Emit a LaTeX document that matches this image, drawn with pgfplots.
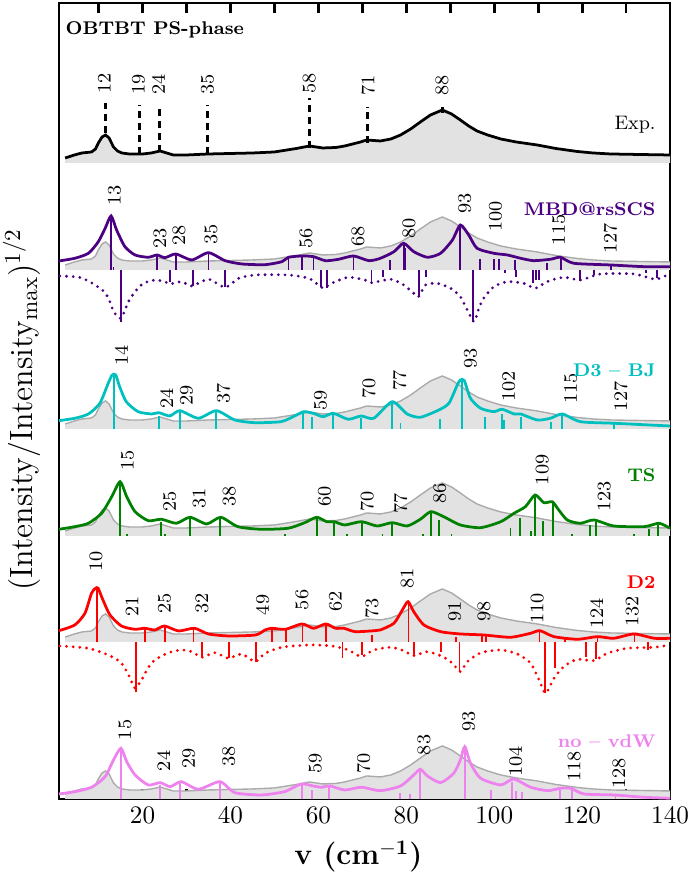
\documentclass[border=0pt]{standalone}
\usepackage{pgfplots}
\usepackage{pgfplotstable}
\pgfplotsset{compat=1.18}
\definecolor{mbd}{RGB}{75,0,130}
\definecolor{dthree}{RGB}{0,191,191}
\definecolor{tsc}{RGB}{0,128,0}
\definecolor{dtwo}{RGB}{255,0,0}
\definecolor{novdw}{RGB}{238,130,238}
\definecolor{fillgrey}{RGB}{226,226,226}
\definecolor{linegrey}{RGB}{170,170,170}

\pgfplotstableread{
x y
2.4 637
2.4 642
4.5 645
6.2 647
8.4 648
9.3 651
9.95 657
10.8 663
11.6 665
12.4 662
13.4 653
14.3 649
15.3 647
17 646
20 646
22 647
24 649
25.5 647
27 645
30 645
35 646
40 646.5
45 647
50 648
55 651.5
58 654
61 652
64 652.5
66 654
69.6 658
71 660
74.1 659
76.5 661
78.7 665
81 671
83.2 678
85.5 685
88.2 690
90.3 686
92.3 680
94.2 674
96.1 669
98.5 665
101.5 661
105 658
109.8 655
114 651.5
118.9 648.5
122.5 647
126.5 646
133 645.5
140 645
140 637
}\expfilltab

\pgfplotstableread{
x y
2.4 642
4.5 645
6.2 647
8.4 648
9.3 651
9.95 657
10.8 663
11.6 665
12.4 662
13.4 653
14.3 649
15.3 647
17 646
20 646
22 647
24 649
25.5 647
27 645
30 645
35 646
40 646.5
45 647
50 648
55 651.5
58 654
61 652
64 652.5
66 654
69.6 658
71 660
74.1 659
76.5 661
78.7 665
81 671
83.2 678
85.5 685
88.2 690
90.3 686
92.3 680
94.2 674
96.1 669
98.5 665
101.5 661
105 658
109.8 655
114 651.5
118.9 648.5
122.5 647
126.5 646
133 645.5
140 645
}\explinetab

\tikzset{pklab/.style={rotate=90,anchor=west,inner sep=0.5pt,font=\fontsize{8.3}{9}\selectfont},
  stick/.style={line width=0.8pt},
  curve/.style={line width=1.2pt, smooth, tension=0.4},
  dotcurve/.style={line width=1.35pt, line cap=round, dash pattern=on 0pt off 2.9pt, smooth, tension=0.4}}

\begin{document}
\begin{tikzpicture}
\begin{axis}[
  scale only axis, width=265.7pt, height=346.1pt,
  xmin=1, xmax=140, ymin=1, ymax=797,
  xtick={20,40,...,140}, minor xtick={10,30,...,130},
  ytick=\empty,
  tick align=inside, xtick pos=both, xticklabel pos=lower,
  major tick length=4.5pt, minor tick length=4.5pt,
  tick style={black, line width=1.2pt},
  axis line style={line width=0.8pt},
  ticklabel style={font=\fontsize{11}{13}\selectfont},
  xlabel={\textbf{v (cm$^{\mathbf{-1}}$)}},
  xlabel style={font=\fontsize{13}{15}\selectfont, at={(axis description cs:0.49,0)}, anchor=north, yshift=-15pt},
  ylabel={(Intensity/Intensity$_{\mathrm{max}}$)$^{1/2}$},
  ylabel style={font=\fontsize{14}{16}\selectfont, at={(axis description cs:-0.044,0.489)}, anchor=base},
  clip=false,
  unbounded coords=jump,
]
% ---------- Panel 1: experiment ----------
\addplot[draw=none, fill=fillgrey] table[x=x,y=y] {\expfilltab};
\addplot[black, line width=1.2pt] table[x=x,y=y] {\explinetab};
\addplot[black, line width=1.2pt, dash pattern=on 3pt off 2.2pt] coordinates {
(11.6,667)(11.6,697)(11.6,nan)
(19.3,646)(19.3,695)(19.3,nan)
(23.85,648)(23.85,695)(23.85,nan)
(34.8,646)(34.8,695)(34.8,nan)
(57.9,652)(57.9,702)(57.9,nan)
(71.1,657)(71.1,693)(71.1,nan)
(88.2,687)(88.2,693)};
\node[pklab] at (axis cs:11.3,705) {12};
\node[pklab] at (axis cs:19.1,704) {19};
\node[pklab] at (axis cs:23.6,704) {24};
\node[pklab] at (axis cs:34.8,704) {35};
\node[pklab] at (axis cs:57.9,705) {58};
\node[pklab] at (axis cs:71.3,703) {71};
\node[pklab] at (axis cs:88.1,703) {88};
\node[anchor=west, font=\fontsize{8}{9}\selectfont\bfseries, inner sep=0pt] at (axis cs:2.4,770) {OBTBT PS-phase};
\node[anchor=east, font=\fontsize{8.5}{9}\selectfont, inner sep=0pt] at (axis cs:136.8,675) {Exp.};

% ---------- Panel 2: MBD@rsSCS ----------
\addplot[draw=none, fill=fillgrey] table[x=x, y expr=\thisrow{y}-107] {\expfilltab};
\addplot[linegrey, line width=0.6pt] table[x=x, y expr=\thisrow{y}-107] {\explinetab};
\addplot[mbd, stick] coordinates {
(12.85,530)(12.85,584)(12.85,nan)
(13.4,530)(13.4,533)(13.4,nan)
(23.3,530)(23.3,545)(23.3,nan)
(27.6,530)(27.6,546)(27.6,nan)
(35,530)(35,547)(35,nan)
(53.2,530)(53.2,543)(53.2,nan)
(56.3,530)(56.3,544)(56.3,nan)
(58.9,530)(58.9,543)(58.9,nan)
(68,530)(68,544)(68,nan)
(76.2,530)(76.2,540)(76.2,nan)
(79.4,530)(79.4,557)(79.4,nan)
(79.8,530)(79.8,552)(79.8,nan)
(92.3,530)(92.3,575)(92.3,nan)
(96.8,530)(96.8,540.7)(96.8,nan)
(99.9,530)(99.9,541)(99.9,nan)
(101,530)(101,541)(101,nan)
(104.8,530)(104.8,540)(104.8,nan)
(112,530)(112,537)(112,nan)
(115.1,530)(115.1,543)(115.1,nan)
(126.5,530)(126.5,535)(126.5,nan)
(15.05,530)(15.05,478.3)(15.05,nan)
(26.3,530)(26.3,518.3)(26.3,nan)
(31.4,530)(31.4,514)(31.4,nan)
(38.8,530)(38.8,512.7)(38.8,nan)
(60.6,530)(60.6,513)(60.6,nan)
(62,530)(62,511.7)(62,nan)
(72.1,530)(72.1,518.3)(72.1,nan)
(74.7,530)(74.7,522.7)(74.7,nan)
(82.8,530)(82.8,503.3)(82.8,nan)
(84.4,530)(84.4,523.3)(84.4,nan)
(95.1,530)(95.1,478.3)(95.1,nan)
(102.4,530)(102.4,526.7)(102.4,nan)
(104.9,530)(104.9,523.3)(104.9,nan)
(108.9,530)(108.9,516.7)(108.9,nan)
(109.6,530)(109.6,520)(109.6,nan)
(110.1,530)(110.1,520)(110.1,nan)
(119.5,530)(119.5,519.3)(119.5,nan)
(122.7,530)(122.7,525)(122.7,nan)
(134.5,530)(134.5,527)(134.5,nan)
(137,530)(137,521.7)};
\addplot[mbd, curve] coordinates {
(1,539)(4.6,541.7)(7.7,546.7)(9.95,558.3)(11.5,571.7)(12.85,584)(14.1,570)(16,553.3)
(18.3,545)(21.3,542.7)(23.3,545)(25.1,542.3)(27.6,546)(31.2,540)(35,547.3)(38.8,539.3)
(42.6,536)(47.9,535.3)(51.7,538.3)(53.2,542.7)(56.3,544)(58.9,543.3)(61.6,539.3)(64.6,540.7)
(68,544)(71.5,539.3)(74.1,541.7)(77.2,548.3)(79.4,556.7)(81.7,548.3)(84.8,542.7)(87.8,546.7)
(90.5,560)(92.3,575)(94.2,565)(96.1,551.7)(99.9,546.7)(103,545)(106,541.7)(109,539.3)
(112.8,540.7)(115.1,542.7)(118.1,536.7)(126.5,535)(134.1,533.3)(140,533.3)};
\addplot[mbd, dotcurve] coordinates {
(1.2,524)(5.6,522.7)(8.6,516.7)(11.3,508.3)(12.4,500)(13.5,488)(15.1,481.7)(16.8,498.3)
(18.3,508.3)(20.2,516.7)(22.9,520)(25.1,518.3)(26.3,516)(28.9,518.3)(31.2,514)(35,520.7)
(38.8,512.7)(41.9,521.7)(45.7,525)(53.2,525)(57.8,521.7)(60,515)(61.2,511.7)(63,516.7)
(66.8,522.7)(70.6,520)(72.1,517.3)(76.5,520.7)(79.4,515)(81.7,506.7)(82.8,503.3)(84.4,515)
(87,516.7)(90.1,511.7)(92.3,503.3)(93.5,493.3)(95.4,478.3)(96.5,491.7)(97.6,501.7)(99.9,513.3)
(103,518.3)(106.7,516.7)(109.4,511.7)(112,518.3)(115.8,522.7)(119.6,520)(124.2,526)(131.8,526)
(136.7,520.7)(139.8,526)};
\node[pklab] at (axis cs:13.6,593) {13};
\node[pklab] at (axis cs:24,550) {23};
\node[pklab] at (axis cs:28.3,552.7) {28};
\node[pklab] at (axis cs:35.6,554) {35};
\node[pklab] at (axis cs:57.2,550) {56};
\node[pklab] at (axis cs:69,551.7) {68};
\node[pklab] at (axis cs:80.6,560) {80};
\node[pklab] at (axis cs:93.3,585) {93};
\node[pklab] at (axis cs:100.3,566.7) {100};
\node[pklab] at (axis cs:114.7,553.3) {115};
\node[pklab] at (axis cs:126.4,545) {127};
\node[anchor=east, font=\fontsize{8}{9}\selectfont\bfseries, text=mbd, inner sep=0pt] at (axis cs:136.8,591) {MBD@rsSCS};

% ---------- Panel 3: D3-BJ ----------
\addplot[draw=none, fill=fillgrey] table[x=x, y expr=\thisrow{y}-266] {\expfilltab};
\addplot[linegrey, line width=0.6pt] table[x=x, y expr=\thisrow{y}-266] {\explinetab};
\addplot[dthree, stick] coordinates {
(13.5,371)(13.5,425)(13.5,nan)
(23.7,371)(23.7,384)(23.7,nan)
(28.5,371)(28.5,389)(28.5,nan)
(36.8,371)(36.8,389)(36.8,nan)
(56.5,371)(56.5,387)(56.5,nan)
(58.6,371)(58.6,382.7)(58.6,nan)
(63.4,371)(63.4,386.7)(63.4,nan)
(69.7,371)(69.7,381.7)(69.7,nan)
(76.8,371)(76.8,398)(76.8,nan)
(78.7,371)(78.7,377.3)(78.7,nan)
(87.6,371)(87.6,380.7)(87.6,nan)
(92.7,371)(92.7,420)(92.7,nan)
(98,371)(98,382.7)(98,nan)
(101.8,371)(101.8,386)(101.8,nan)
(102.3,371)(102.3,380)(102.3,nan)
(106,371)(106,382.7)(106,nan)
(113,371)(113,378.3)(113,nan)
(115.5,371)(115.5,386)(115.5,nan)
(127.2,371)(127.2,376)};
\addplot[dthree, curve] coordinates {
(1,379.3)(4.6,381.7)(7.7,386)(10.3,396.7)(12.2,416.7)(13.1,425)(13.9,425)(14.8,413.3)
(16.3,398.3)(19,388.3)(22.1,386)(23.7,387.3)(26.2,384)(28.5,389.3)(32.7,381.7)(36.8,389.3)
(41,380)(45.5,377.3)(51.5,378.3)(54.6,384)(56.7,388.3)(58.8,386.7)(61.1,383.3)(63.4,386.7)
(66.8,380.7)(69.7,384)(72.6,381.7)(76.8,398.3)(80.2,386)(83.2,382.7)(87.4,390)(89.7,396.7)
(91.6,415)(92.3,420)(93.2,419.3)(94.6,401.7)(96.9,391.7)(99.9,388.3)(101.8,390.7)(104.5,386)
(106,386)(109.8,380)(112.8,381.7)(115.5,386)(119.6,378.3)(127.2,376.7)(140,374)};
\node[pklab] at (axis cs:15.2,433) {14};
\node[pklab] at (axis cs:25.5,390) {24};
\node[pklab] at (axis cs:30,393) {29};
\node[pklab] at (axis cs:38.4,395) {37};
\node[pklab] at (axis cs:60.5,388) {59};
\node[pklab] at (axis cs:71.5,400) {70};
\node[pklab] at (axis cs:78.5,408) {77};
\node[pklab] at (axis cs:94.6,430) {93};
\node[pklab] at (axis cs:103.3,396.7) {102};
\node[pklab] at (axis cs:117.4,395) {115};
\node[pklab] at (axis cs:128.8,386.7) {127};
\node[anchor=east, font=\fontsize{8}{9}\selectfont\bfseries, text=dthree, inner sep=0pt] at (axis cs:136.8,430) {D3 -- BJ};

% ---------- Panel 4: TS ----------
\addplot[draw=none, fill=fillgrey] table[x=x, y expr=\thisrow{y}-373] {\expfilltab};
\addplot[linegrey, line width=0.6pt] table[x=x, y expr=\thisrow{y}-373] {\explinetab};
\addplot[tsc, stick] coordinates {
(14.9,264)(14.9,318)(14.9,nan)
(16.4,264)(16.4,266)(16.4,nan)
(24.3,264)(24.3,278.3)(24.3,nan)
(25.2,264)(25.2,266)(25.2,nan)
(30.8,264)(30.8,282.7)(30.8,nan)
(37.6,264)(37.6,282.7)(37.6,nan)
(52.5,264)(52.5,266)(52.5,nan)
(59.6,264)(59.6,282.7)(59.6,nan)
(63.6,264)(63.6,278.3)(63.6,nan)
(66.6,264)(66.6,266)(66.6,nan)
(70,264)(70,278.3)(70,nan)
(74.6,264)(74.6,266)(74.6,nan)
(76.8,264)(76.8,277)(76.8,nan)
(83.8,264)(83.8,266)(83.8,nan)
(85.6,264)(85.6,288)(85.6,nan)
(87.4,264)(87.4,280)(87.4,nan)
(90.3,264)(90.3,266)(90.3,nan)
(103.7,264)(103.7,271.7)(103.7,nan)
(105.8,264)(105.8,281.7)(105.8,nan)
(108.3,264)(108.3,269)(108.3,nan)
(109.2,264)(109.2,305)(109.2,nan)
(111.1,264)(111.1,279.3)(111.1,nan)
(113.4,264)(113.4,297.3)(113.4,nan)
(117.7,264)(117.7,266)(117.7,nan)
(121.8,264)(121.8,275)(121.8,nan)
(123.2,264)(123.2,279.3)(123.2,nan)
(131.8,264)(131.8,266)(131.8,nan)
(135.2,264)(135.2,270.7)(135.2,nan)
(137.3,264)(137.3,275)};
\addplot[tsc, curve] coordinates {
(1,270.7)(4.6,273.3)(7.7,276.7)(10.7,286.7)(13,303.3)(14.9,318.3)(16.4,303.3)(18.3,288.3)
(21.3,279.3)(24.3,280.7)(27.7,276.7)(30.8,282.7)(34.6,276)(37.8,282.7)(41.7,273.3)(47,270.7)
(53.1,271.7)(56.9,277.3)(59.6,282.7)(61.9,278.3)(63.6,278.3)(66,275)(69.8,278.3)(73.4,274)
(76.8,277.3)(80.2,274)(83.2,280.7)(85.6,288.3)(88.5,283.3)(92.3,275)(96.9,272.3)(101.5,278.3)
(104.5,286.7)(107.1,293.3)(109.3,305)(111.3,297.3)(113.2,298.3)(114.4,291.7)(116.6,280)(119.6,276.7)
(122.7,280)(127.2,274)(134.1,273.3)(137.5,276.7)(140,271.7)};
\node[pklab] at (axis cs:16.6,328) {15};
\node[pklab] at (axis cs:26.2,286.7) {25};
\node[pklab] at (axis cs:32.9,290) {31};
\node[pklab] at (axis cs:39.7,291.7) {38};
\node[pklab] at (axis cs:61.4,291.7) {60};
\node[pklab] at (axis cs:71.1,286.7) {70};
\node[pklab] at (axis cs:78.7,285) {77};
\node[pklab] at (axis cs:87.6,295) {86};
\node[pklab] at (axis cs:110.9,313.3) {109};
\node[pklab] at (axis cs:125,286.7) {123};
\node[anchor=east, font=\fontsize{8}{9}\selectfont\bfseries, text=tsc, inner sep=0pt] at (axis cs:136.8,325) {TS};

% ---------- Panel 5: D2 ----------
\addplot[draw=none, fill=fillgrey] table[x=x, y expr=\thisrow{y}-479] {\expfilltab};
\addplot[linegrey, line width=0.6pt] table[x=x, y expr=\thisrow{y}-479] {\explinetab};
\addplot[dtwo, stick] coordinates {
(9.6,158)(9.6,211.7)(9.6,nan)
(20.5,158)(20.5,171.7)(20.5,nan)
(25.1,158)(25.1,173.3)(25.1,nan)
(31.6,158)(31.6,171.7)(31.6,nan)
(49.4,158)(49.4,171.7)(49.4,nan)
(52.7,158)(52.7,170.7)(52.7,nan)
(56.4,158)(56.4,176)(56.4,nan)
(61.7,158)(61.7,176)(61.7,nan)
(72.2,158)(72.2,165)(72.2,nan)
(80.5,158)(80.5,198.3)(80.5,nan)
(91.3,158)(91.3,163.3)(91.3,nan)
(97.3,158)(97.3,164)(97.3,nan)
(98.1,158)(98.1,164)(98.1,nan)
(110.3,158)(110.3,168.3)(110.3,nan)
(116.1,158)(116.1,161)(116.1,nan)
(123.5,158)(123.5,162.7)(123.5,nan)
(131.9,158)(131.9,166.7)(131.9,nan)
(18.5,158)(18.5,108.3)(18.5,nan)
(33.5,158)(33.5,143.3)(33.5,nan)
(39.7,158)(39.7,141.7)(39.7,nan)
(45.8,158)(45.8,138.3)(45.8,nan)
(65.5,158)(65.5,141.7)(65.5,nan)
(69.9,158)(69.9,145)(69.9,nan)
(81.7,158)(81.7,145)(81.7,nan)
(87.9,158)(87.9,148.3)(87.9,nan)
(92.1,158)(92.1,128.3)(92.1,nan)
(111.5,158)(111.5,106.7)(111.5,nan)
(113.8,158)(113.8,131.7)(113.8,nan)
(120.8,158)(120.8,142.7)(120.8,nan)
(123.2,158)(123.2,140.7)(123.2,nan)
(135,158)(135,150)};
\addplot[dtwo, curve] coordinates {
(1,169.3)(4.6,175)(6.9,186.7)(8.4,206.7)(9.3,211.7)(9.9,211.7)(11,200)(12.6,185)
(15.2,174)(18.2,170.7)(20.5,171.7)(22.8,170)(25,174)(28.2,169)(31.8,171.7)(35,166)
(39.6,164)(45.7,165)(47.9,170)(49.4,171.7)(52.5,170.7)(56.3,176)(58.9,171.7)(61.7,176)
(63.9,171.7)(65.8,171.7)(68.4,168.3)(72.9,169.3)(74.1,170)(77.2,176.7)(79.1,190)(80.4,198.3)
(81.7,188.3)(84,175)(87.8,168.3)(92.3,166)(97.6,165)(103.7,162.7)(108.3,166.7)(110.4,169.3)
(113.6,163.3)(118.9,160.7)(123.5,163.3)(127.2,161.7)(131.8,166)(136.4,161.7)(140,161.7)};
\addplot[dtwo, dotcurve] coordinates {
(1.2,154)(7.7,151.7)(12.2,145)(14.9,138.3)(16,131.7)(17.2,121.7)(18.3,111.7)(20,121.7)
(21.2,131.7)(22.8,140)(25.9,147.3)(28.9,150)(31.2,148.3)(33.5,142.7)(36.5,147.3)(39.5,141.7)
(42.6,146)(45.6,138.3)(47.9,146.7)(51.7,152.7)(57.8,155)(63.1,154)(66.8,150)(69.8,143.3)
(72.6,150)(76.5,152.7)(79.4,149.3)(81.7,144.3)(84.8,148.3)(88.3,143.3)(90.5,136.7)(92.3,128.3)
(93.9,138.3)(97,147.3)(101.5,150)(105.3,146)(108.3,136.7)(110.2,120)(111.7,106.7)(113.6,121.7)
(115.8,133.3)(118.9,140.7)(122.7,139.3)(125.7,146.7)(130.3,151.7)(136.4,152.7)(140,155)};
\node[pklab] at (axis cs:9.4,227) {10};
\node[pklab] at (axis cs:17.6,181.7) {21};
\node[pklab] at (axis cs:25,185) {25};
\node[pklab] at (axis cs:33.5,185) {32};
\node[pklab] at (axis cs:47.3,183.3) {49};
\node[pklab] at (axis cs:56.3,188.3) {56};
\node[pklab] at (axis cs:63.9,186.7) {62};
\node[pklab] at (axis cs:72.2,180) {73};
\node[pklab] at (axis cs:80.2,210) {81};
\node[pklab] at (axis cs:91,176.7) {91};
\node[pklab] at (axis cs:97.7,176.7) {98};
\node[pklab] at (axis cs:109.8,175) {110};
\node[pklab] at (axis cs:123.3,170) {124};
\node[pklab] at (axis cs:131.4,171.7) {132};
\node[anchor=east, font=\fontsize{8}{9}\selectfont\bfseries, text=dtwo, inner sep=0pt] at (axis cs:136.8,218) {D2};

% ---------- Panel 6: no-vdW ----------
\addplot[draw=none, fill=fillgrey] table[x=x, y expr=\thisrow{y}-636] {\expfilltab};
\addplot[linegrey, line width=0.6pt] table[x=x, y expr=\thisrow{y}-636] {\explinetab};
\addplot[novdw, stick] coordinates {
(15.1,1)(15.1,51.7)(15.1,nan)
(24,1)(24,15)(24,nan)
(28.6,1)(28.6,16.7)(28.6,nan)
(37.6,1)(37.6,18.3)(37.6,nan)
(56.3,1)(56.3,16)(56.3,nan)
(58.6,1)(58.6,10)(58.6,nan)
(62.4,1)(62.4,14)(62.4,nan)
(78.6,1)(78.6,6.7)(78.6,nan)
(80.9,1)(80.9,5.7)(80.9,nan)
(83.2,1)(83.2,30.7)(83.2,nan)
(93.3,1)(93.3,53.3)(93.3,nan)
(99.2,1)(99.2,10)(99.2,nan)
(104.1,1)(104.1,18.3)(104.1,nan)
(105,1)(105,9.3)(105,nan)
(106.4,1)(106.4,8.3)(106.4,nan)
(114.9,1)(114.9,10)(114.9,nan)
(117.6,1)(117.6,13)(117.6,nan)
(127.6,1)(127.6,5)};
\addplot[novdw, curve] coordinates {
(1,6)(4.6,8.3)(8.4,12.7)(11.5,23.3)(13.4,40)(15.1,51.7)(16.4,38.3)(18.3,25)
(21.3,15)(24,17.3)(26.3,13.3)(28.8,18.3)(32.7,10.7)(37.6,18.3)(41,7.3)(47,5)
(52.3,8.3)(56.1,16)(58.8,14)(60.7,12.7)(62.6,14)(66,10)(69.8,12.7)(74.1,9.3)
(78.7,14)(81.7,25)(83.2,30.7)(84.8,24)(87.8,17.3)(90.8,26.7)(92.3,40)(93.3,53.3)
(94.6,36.7)(96.9,21.7)(101.5,15)(104.4,21)(108.3,12.7)(112.1,9.3)(115.1,11.7)(117.4,11.7)
(120.4,6)(127.2,5)(134.1,2.7)(140,1.7)};
\node[pklab] at (axis cs:16,58.3) {15};
\node[pklab] at (axis cs:24.8,27.3) {24};
\node[pklab] at (axis cs:30.5,30) {29};
\node[pklab] at (axis cs:39.6,31.7) {38};
\node[pklab] at (axis cs:59.3,25) {59};
\node[pklab] at (axis cs:70.3,25) {70};
\node[pklab] at (axis cs:84,43.3) {83};
\node[pklab] at (axis cs:94.2,66.7) {93};
\node[pklab] at (axis cs:104.9,21.7) {104};
\node[pklab] at (axis cs:118.2,16.7) {118};
\node[pklab] at (axis cs:128.4,10) {128};
\node[anchor=east, font=\fontsize{8}{9}\selectfont\bfseries, text=novdw, inner sep=0pt] at (axis cs:136.8,58.3) {no -- vdW};
\end{axis}
\pgfresetboundingbox
\path[use as bounding box] (-25.65pt,-33.5pt) rectangle (274.8pt,347.4pt);
\end{tikzpicture}
\end{document}
